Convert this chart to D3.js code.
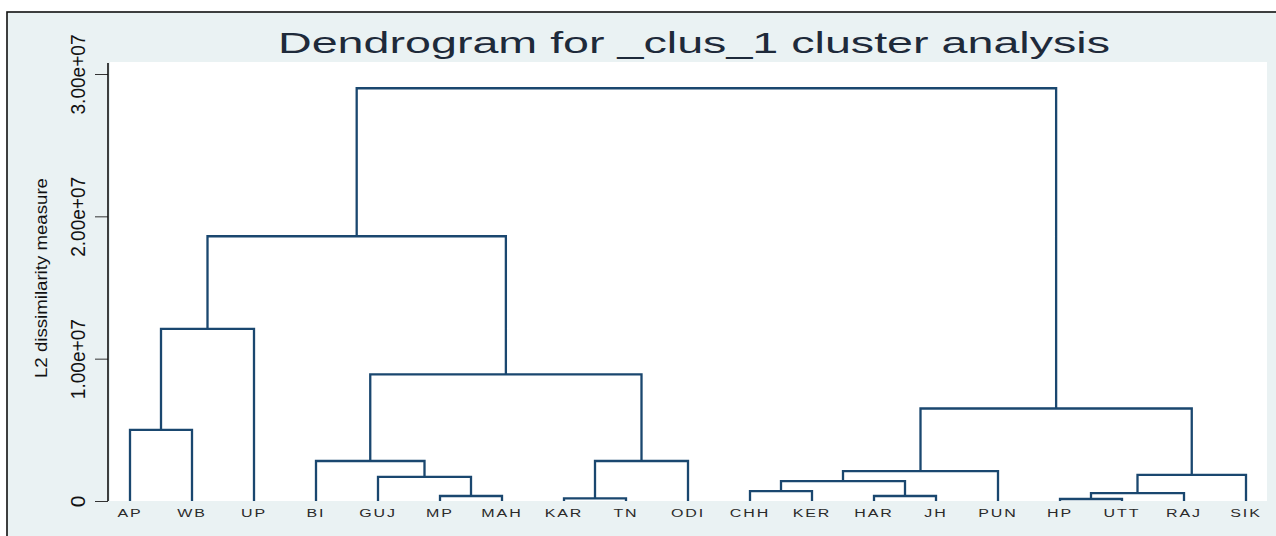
<!DOCTYPE html>
<html>
<head>
<meta charset="utf-8">
<script src="https://cdn.jsdelivr.net/npm/d3@7"></script>
<style>
  html, body { margin: 0; padding: 0; background: #ffffff; }
  svg { display: block; }
  text { font-family: "Liberation Sans", Arial, sans-serif; }
</style>
</head>
<body>
<svg id="chart" width="1276" height="536"></svg>
<script>
// Leaves in dendrogram order
const leaves = ["AP", "WB", "UP", "BI", "GUJ", "MP", "MAH", "KAR", "TN", "ODI",
                "CHH", "KER", "HAR", "JH", "PUN", "HP", "UTT", "RAJ", "SIK"];

// Linkage: merge k creates node leaves.length + k from nodes mergeA[k] and mergeB[k]
const mergeA = [15, 7, 5, 12, 19, 10, 24, 4, 23, 25, 3, 20, 0, 28, 29, 31, 34, 35];
const mergeB = [16, 8, 6, 13, 17, 11, 22, 21, 18, 14, 26, 9, 1, 27, 30, 2, 33, 32];
const mergeHeights = [1.4e5, 1.8e5, 3.5e5, 3.5e5, 5.6e5, 7.0e5, 1.4e6, 1.7e6, 1.83e6,
                      2.1e6, 2.81e6, 2.81e6, 5.0e6, 6.5e6, 8.9e6, 1.21e7, 1.86e7, 2.9e7];

const yTicks = [0, 1e7, 2e7, 3e7];
const yTickLabels = ["0", "1.00e+07", "2.00e+07", "3.00e+07"];

const titleText = "Dendrogram for _clus_1 cluster analysis";
const yTitle = "L2 dissimilarity measure";

const svg = d3.select("#chart");
const W = 1276, H = 536;

const navy = "#1a476f";
const bg = "#eaf2f3";

// Graph region with outer frame
svg.append("rect")
  .attr("x", 7).attr("y", 12)
  .attr("width", W).attr("height", H)
  .attr("fill", bg)
  .attr("stroke", "#111").attr("stroke-width", 1.6);

// Plot region
const plot = { left: 110, right: 1267, top: 62, bottom: 501 };
svg.append("rect")
  .attr("x", plot.left).attr("y", plot.top)
  .attr("width", plot.right - plot.left).attr("height", plot.bottom - plot.top)
  .attr("fill", "#ffffff");

// Scales
const x = d3.scalePoint().domain(leaves).range([130, 1246]);
const y = d3.scaleLinear().domain([0, 3e7]).range([501, 74]);

// Node positions: leaves at height 0, merges at midpoint of children
const nodeX = leaves.map(d => x(d));
const nodeH = leaves.map(() => 0);
mergeA.forEach((a, k) => {
  const b = mergeB[k];
  nodeX.push((nodeX[a] + nodeX[b]) / 2);
  nodeH.push(mergeHeights[k]);
});

// Links
const links = mergeA.map((a, k) => ({ a, b: mergeB[k], h: mergeHeights[k] }));
svg.append("g")
  .selectAll("path")
  .data(links)
  .join("path")
  .attr("d", d => `M${nodeX[d.a]},${y(nodeH[d.a])}V${y(d.h)}H${nodeX[d.b]}V${y(nodeH[d.b])}`)
  .attr("fill", "none")
  .attr("stroke", navy)
  .attr("stroke-width", 2.3)
  .attr("stroke-linejoin", "miter");

// Y axis
const yAxis = d3.axisLeft(y)
  .tickValues(yTicks)
  .tickSize(13)
  .tickPadding(0)
  .tickFormat((d, i) => yTickLabels[i]);

const gy = svg.append("g")
  .attr("transform", `translate(108,0)`)
  .call(yAxis);
gy.select(".domain").remove();
gy.append("line")
  .attr("x1", 0).attr("x2", 0)
  .attr("y1", y(0)).attr("y2", plot.top + 1)
  .attr("stroke", "#111").attr("stroke-width", 1.6);
gy.selectAll(".tick line").attr("stroke", "#333").attr("stroke-width", 1);
gy.selectAll(".tick text")
  .attr("x", 0).attr("dy", 0)
  .attr("transform", "translate(-23,0) rotate(-90)")
  .attr("text-anchor", "middle")
  .attr("fill", "#111")
  .style("font-size", "21px")
  .each(function (d, i) {
    if (i > 0) d3.select(this).attr("textLength", 80).attr("lengthAdjust", "spacingAndGlyphs");
  });

// Y axis title
svg.append("text")
  .attr("transform", "translate(47,278) rotate(-90)")
  .attr("text-anchor", "middle")
  .attr("fill", "#111")
  .style("font-size", "16.5px")
  .attr("textLength", 200)
  .attr("lengthAdjust", "spacingAndGlyphs")
  .text(yTitle);

// Leaf labels (wide lettering)
svg.append("g")
  .selectAll("text")
  .data(leaves)
  .join("text")
  .attr("transform", d => `translate(${x(d)},517) scale(1.6,1)`)
  .attr("text-anchor", "middle")
  .attr("fill", "#2a2a2a")
  .style("font-size", "10px")
  .style("letter-spacing", "1.2px")
  .text(d => d);

// Title
svg.append("text")
  .attr("x", 694).attr("y", 53)
  .attr("text-anchor", "middle")
  .attr("fill", "#1e2a3a")
  .style("font-size", "29px")
  .attr("textLength", 832)
  .attr("lengthAdjust", "spacingAndGlyphs")
  .text(titleText);
</script>
</body>
</html>
